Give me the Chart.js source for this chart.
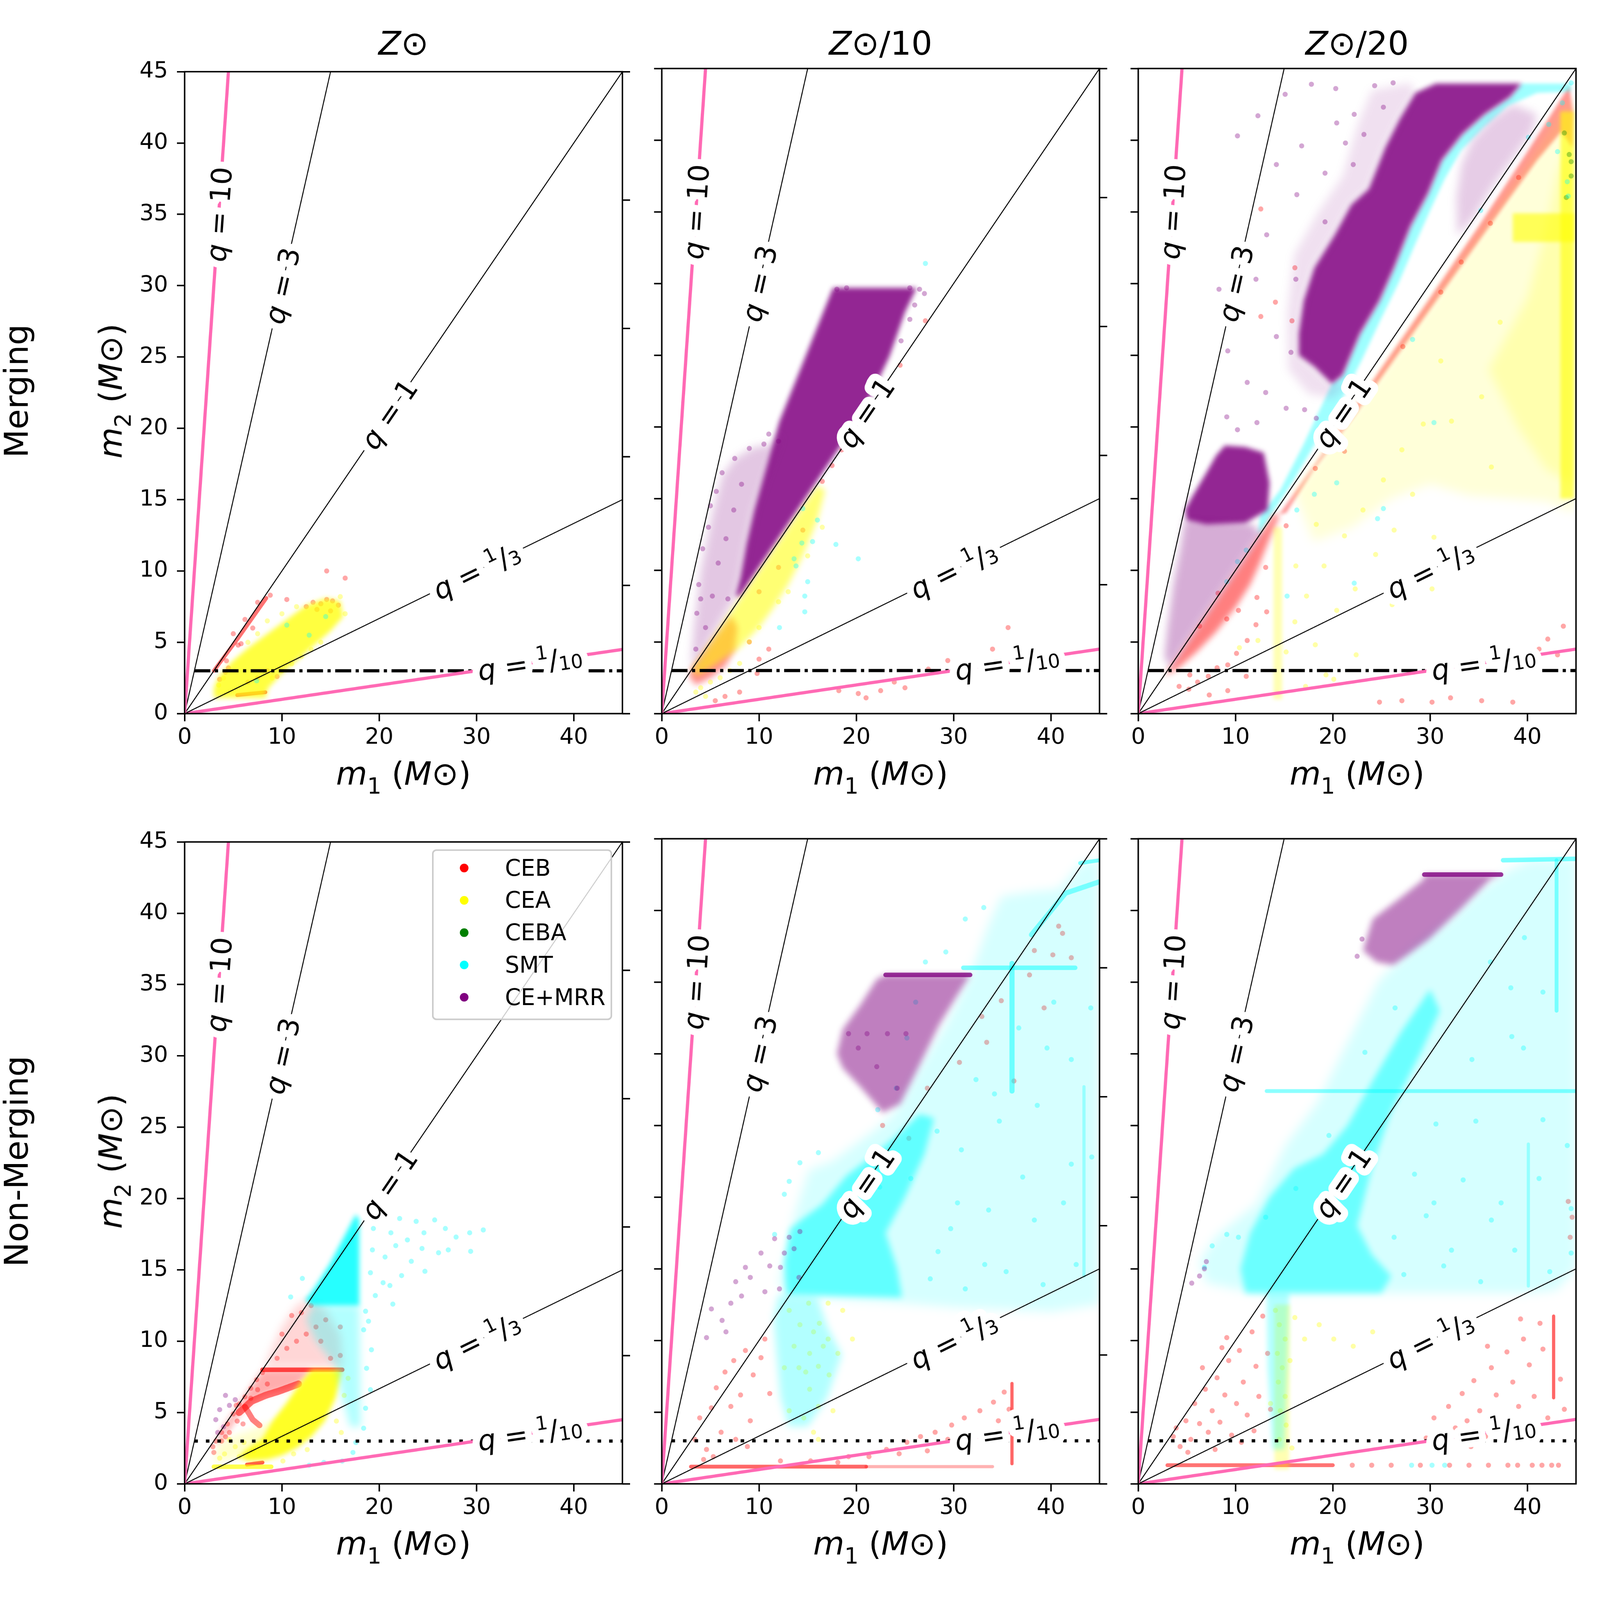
<!DOCTYPE html>
<html><head><meta charset="utf-8">
<script src="https://cdn.jsdelivr.net/npm/chart.js@4.4.1/dist/chart.umd.min.js"></script>
<style>
html,body{margin:0;padding:0;background:#fff;overflow:hidden;}
#root{position:absolute;left:0;top:0;width:5000px;height:5000px;overflow:hidden;background:#fff;font-family:"DejaVu Sans",sans-serif;transform-origin:0 0;}
canvas{position:absolute;}
.t{position:absolute;white-space:nowrap;line-height:1;color:#000;font-family:"DejaVu Sans",sans-serif;}
.t i{font-style:italic;}
.t sub{font-size:70%;vertical-align:baseline;position:relative;top:0.4em;}
</style></head><body><div id="root"></div>
<script>
// ---------- axis / label data ----------
const xTicks=[0,10,20,30,40];
const yTicks=[0,5,10,15,20,25,30,35,40,45];
const yRightTicks=[0,9,18,27,36,45];
const seriesNames=['CEB','CEA','CEBA','SMT','CE+MRR'];
const seriesColors=['255,0,0','255,255,0','0,128,0','0,255,255','128,0,128'];
const colTitles=['⊙','⊙/10','⊙/20'];
const rowTitles=['Merging','Non-Merging'];
const qLineEnds=[[4.5,45],[15,45],[45,45],[45,15],[45,4.5]];
const qPink=[true,false,false,false,true];
const qLabelAt=[[3.5,35],[10,30],[21,21],[30,10],[35.5,3.55]];
const qLabelText=[
 [['q','i'],[' = 10','n']],
 [['q','i'],[' = 3','n']],
 [['q','i'],[' = 1','n']],
 [['q','i'],[' = ','n'],['1','sup'],['/','n'],['3','sub']],
 [['q','i'],[' = ','n'],['1','sup'],['/','n'],['10','sub']]
];
const limitLine=[[1,3],[45,3]];

// ================= Panel 1: Merging, Z⊙ =================
const P1_CEA_area=[[3,1.1],[8.3,1.1],[8.6,1.8],[10,2.8],[12.5,4.3],[15,5.8],[16.3,6.8],[16,7.9],[14.5,8.1],[12.5,7.6],[10.5,6.6],[8.5,5.6],[6.5,4.6],[4.8,3.6],[3.5,2.6],[3,1.8]];
const P1_CEB_diag=[[3,3],[5.4,5.2],[8.4,8.1]];
const P1_CEB_bottom=[[5.4,1.3],[8.3,1.5]];
const P1_CEB_S=[[4.3,3.7],[5.5,4.8],[5.8,4.9],[7,6],[4.5,3.2],[3.6,2.4],[4.2,2.9],[12.5,7.5],[13.2,7.8],[14,7.7],[14.6,8],[15.2,7.9],[15.8,7.6],[13.6,7.3],[15,7.2],[14.6,10],[16.5,9.5],[10.5,8],[6.5,2.2],[7.5,2.5],[8.5,3],[9.5,2.6],[6.2,6.6],[7.5,7.8],[5,5.6],[8.8,8.3]];
const P1_CEA_S=[[9,2.5],[10,3],[11,3.5],[12,4],[13,4.5],[16,8.2],[16.5,7],[11.5,7.5],[10,7],[8.5,6.5],[4,2.5],[3.5,2],[14,5],[7.5,5.6],[6.5,5]];
const P1_SMT_S=[[7.4,2.3],[12.8,5.5],[14.5,6.8],[10.5,6.2]];

// ================= Panel 2: Merging, Z⊙/10 =================
const P2_CEMRR_core=[[17.6,29.7],[26.2,29.7],[25,28],[23.4,24.9],[21.5,22.2],[20.2,20.5],[8,8.2],[7.6,8.2],[8.1,9.5],[8.7,11.8],[9.5,14.2],[12.1,20.4],[15,25.3]];
const P2_CEMRR_halo=[[3,3.2],[3.3,6],[4,10],[5.2,14],[6.2,16.6],[7.5,17.8],[9.5,18.6],[11.5,18.8],[12.3,19.5],[9.5,14.2],[8.7,11.8],[8.1,9.5],[7.6,8.2],[3.8,3.8]];
const P2_CEMRR_S=[[3.8,9],[4.2,11.5],[5,14.5],[6.2,16.8],[7.5,17.8],[9,18.5],[10.5,18.8],[12,19],[11,19.5],[5.6,15.5],[4.8,13],[3.6,7],[26.5,29.6],[27,29.3],[26,28.5],[25.5,27.5],[24.6,26],[25.5,29.7],[19,29.7],[18,29.6],[4.5,6],[5.8,10.5],[6.6,12.2],[7.4,14.2],[8.2,16],[5.2,8.2],[6.8,8],[4,8],[3.5,4.5]];
const P2_CEA_area=[[3.5,2.6],[5.5,3.4],[8,4.6],[10,6],[11.5,7.4],[13,9],[14.5,11],[16,13.5],[16.8,15.6],[16,15.9],[13,13],[10,10],[7,7],[4,4],[3.2,3.2]];
const P2_CEA_S=[[4,1.8],[5,2.2],[6,2.5],[7,3],[8,3.5],[4.5,1.2],[3.5,1.5],[10,6],[13,8.5],[9,5],[12,7.8],[15,11],[16.5,13]];
const P2_CEB_area=[[2.8,2.6],[3.5,2],[5,2.5],[6.5,3.3],[7.5,4.5],[7.8,6],[7.2,6.8],[5.5,5.3],[4,3.9],[3,3.1]];
const P2_CEB_S=[[10,8.5],[12,10.2],[14.5,12.8],[16.5,16.2],[17.5,17.3],[18.5,18.4],[24.5,24.3],[27.1,27.4],[9.8,2.8],[18.2,1.6],[20.2,1.4],[22.5,1.6],[23.9,2.2],[27.4,3.1],[29.4,3.7],[34,4.5],[35.6,6],[21,1.1],[25,1.8],[31,2.4],[8,1.5],[6.5,1.2],[5.5,0.9],[11,4.5],[9,5],[10,3.8]];
const P2_SMT_S=[[27.1,31.4],[20.2,10.8],[17.9,11.8],[15,9.2],[14.7,8.2],[14.4,11.9],[13.6,10.8],[12.1,6],[14.7,7.1],[13.8,10.3],[16,13.5],[15.5,12],[14.5,14.3]];

// ================= Panel 3: Merging, Z⊙/20 =================
const P3_CEMRR_band=[[30.6,43.95],[39.4,43.95],[38.2,43],[35.6,41.8],[33.3,40.4],[31.2,38.6],[29.8,36.3],[28,34],[26.3,31.1],[24.8,28.8],[22.8,26.5],[21,23.6],[19.9,23],[18.1,24.2],[16.5,25],[16.5,26.5],[17,28.8],[18.1,31.1],[20.2,33.4],[21.9,35.5],[23.7,36.6],[25.4,39.5],[26.9,41.5],[28.5,43.3]];
const P3_CEMRR_fringe=[[28,44],[24,43.5],[22.5,41],[21,37.5],[18.5,35],[16,32],[15.3,28],[15.4,24],[17.5,22.3],[20,22],[21.5,23],[19.9,23],[18.1,24.2],[16.5,25],[16.5,26.5],[17,28.8],[18.1,31.1],[20.2,33.4],[21.9,35.5],[23.7,36.6],[25.4,39.5],[26.9,41.5],[28.5,43.3]];
const P3_CEMRR_low=[[8.9,18.7],[11,18.6],[12.9,18.2],[13.5,16.1],[13.3,14.2],[11,13.3],[7,13.2],[5,13.5],[4.8,14.2],[5.6,15.2],[7,16.8],[8,18]];
const P3_CEMRR_mid=[[4.8,13.6],[11.5,13.3],[12.6,12.6],[11,11],[9,9],[7,7],[5,5],[3.2,3.2],[2.7,4],[3,6],[3.6,9],[4.3,11.5]];
const P3_CEMRR_right=[[32.8,33.3],[34.5,34.6],[36.5,36.8],[38.5,38.7],[40.5,40.6],[41,41.8],[38.5,42.5],[36.3,41.5],[34.3,40],[33.2,38.3],[32.7,36]];
const P3_CEMRR_S=[[10.2,40.3],[12.3,41.7],[15.1,43.2],[17.8,43.9],[20.3,43.6],[22.2,41.8],[14.2,38.3],[16.8,39.6],[16.3,36.2],[19.2,37.7],[21.3,39.8],[13.2,33.4],[12.1,30.3],[11.3,27.8],[14.2,26.3],[13.1,22.4],[12.2,20.3],[11.2,23.1],[15.2,21.3],[17.1,21.2],[18.3,20.6],[10.2,19.8],[9.1,20.7],[24.3,43.8],[26.2,44],[20.4,41.2],[23.2,40.4],[9.2,25.3],[8.3,29.6],[15.7,25.2],[16.2,30.3],[19.2,34.3],[22.1,38.3],[25.2,42.3]];
const P3_SMT_band=[[12.5,13.8],[14.6,15.6],[17,18.8],[19.9,23],[21,23.6],[22.8,26.5],[24.8,28.8],[26.3,31.1],[28,34],[29.8,36.3],[31.2,38.6],[33.3,40.4],[35.6,41.8],[38.2,43],[39.4,43.95],[44.5,43.95],[44.5,43.4],[41,43.3],[38,42.4],[35.5,40.9],[33.2,39.3],[31.5,37.3],[30,35.1],[28.5,32.8],[26.8,30.1],[25,27.6],[23,24.7],[21,22],[18.5,19.2],[16,16.3],[13.5,13.7],[12.3,12.4]];
const P3_SMT_S=[[9.1,9.2],[10.2,10.6],[11.1,11.4],[16.3,14.2],[18.1,15.3],[20.4,16.1],[25.2,14.3],[24.6,13.6],[22.2,9.1],[15.3,8.2],[30.4,20.3],[28.2,26.1],[35.2,35.1],[40.1,40.2],[42.2,41.1],[43.1,39.2],[44.1,37.1],[44.2,36.1],[43.6,42.6],[44.5,44]];
const P3_CEB_core=[[2.6,2.6],[4,3.1],[6,4.3],[8,5.7],[10,7.4],[11.5,9],[12.5,10.5],[13.5,12.2],[14.5,13.8],[14,14],[12,11.9],[9,8.9],[6,5.9],[3.5,3.4]];
const P3_CEB_band=[[14.5,13.9],[20,19.1],[25,24.1],[30,29],[35,34],[40,39.2],[43,42.4],[44.3,43.8],[44.7,42],[44.6,39.5],[43.5,40.6],[41,38.6],[38,35.8],[34,32],[30,28.2],[26,24.4],[22,20.6],[18,17],[15.2,14]];
const P3_CEB_S=[[5.2,1.7],[6.1,2.2],[7.2,2.6],[8.1,3.2],[9.2,3.4],[10.1,4.2],[11.2,5.1],[12.1,6.2],[13.2,7.1],[6.3,6.1],[8.2,8.4],[9.1,6.6],[10.3,7.2],[12.2,8.1],[13.1,10.2],[7.3,1.3],[9.2,1.6],[11.1,2.6],[5.3,2.7],[4.2,1.9],[24.8,0.8],[27.1,0.9],[30.2,0.8],[32.1,1.1],[35.3,0.9],[38.5,0.8],[40.1,3.7],[41.2,4.5],[42.1,5.2],[43.7,6.1],[43.1,4.1],[12.6,35.2],[16.1,31.1],[12.6,27.7],[15.8,27.4],[14.1,28.7],[20.3,19.2],[21.2,18.3],[18.2,17.1],[15.2,13.1],[27.2,25.6],[31.1,29.4],[36.2,34.2],[39.1,37.4],[33.2,31.5]];
const P3_CEA_wide=[[16,15.5],[22,21],[28,26.8],[34,32.6],[40,38.4],[43.6,42.3],[44.8,43],[44.8,14],[42,14.8],[38,15],[34,15.2],[30,16],[26,15],[22,13],[18,12]];
const P3_CEA_right=[[36,24],[40,29],[42,34],[43,37.5],[44.8,40.5],[44.8,16],[42,17],[39,20]];
const P3_CEA_strip=[[43.4,15],[44.8,15],[44.8,42],[43.4,42]];
const P3_CEA_block=[[38.5,32.9],[44.8,32.9],[44.8,34.9],[38.5,34.9]];
const P3_CEA_vstrip=[[13.9,1],[14.8,1],[14.8,13],[13.9,13]];
const P3_CEA_S=[[15.2,4.3],[16.1,6.4],[17.3,8.2],[18.2,4.8],[19.1,10.3],[20.4,7.2],[21.2,12.4],[22.3,8.7],[23.1,14.2],[24.4,11.1],[25.2,16.3],[26.3,12.8],[27.1,18.4],[28.2,15.3],[29.3,20.2],[30.4,12.3],[26.1,7.6],[22.4,4.1],[19.3,2.7],[17.2,1.9],[20.1,2.4],[12.3,5.1],[10.4,4.6],[16.2,10.3],[18.3,13.2],[30.2,8.7],[33.1,11.3],[32.2,20.4],[35.3,22.1],[31.1,24.6],[37.2,27.3],[36.3,17.2]];
const P3_CEBA_S=[[44,36],[44.5,37.5],[44.3,39],[43.8,40.5],[44.5,38.5]];

// ================= Panel 4: Non-Merging, Z⊙ =================
const P4_SMT_core=[[17.6,18.9],[17.95,18.5],[17.95,12.5],[13,12.5],[12.4,12.9],[13,13.4],[13.8,14.2],[14.9,15.4],[16.3,17.2]];
const P4_SMT_mid=[[13.2,12.5],[17.95,12.5],[18.1,4],[17,4],[16.2,6],[15.6,8.2],[13.5,10],[12.5,11.5]];
const P4_SMT_S=[[18.6,18.7],[19.4,17.9],[20.3,18.5],[21.2,17.6],[22.1,18.6],[22.9,17.1],[23.8,18.4],[24.6,17.6],[25.7,18.5],[26.8,17.9],[27.9,17.3],[29.3,17.6],[30.7,17.8],[19.3,16.4],[20.6,15.9],[21.7,16.7],[23.3,15.6],[24.4,16.5],[26.1,16.2],[19.1,14.8],[20.4,14.1],[22.3,14.6],[24.7,14.9],[19.6,13.2],[21.4,12.6],[18.6,12.1],[18.4,10.8],[19.2,9.4],[18.7,8.1],[19.1,6.6],[18.6,5.3],[18.4,3.9],[17.6,2.9],[16.2,1.6],[14.3,1.5],[12.8,1.3],[17.3,2.2],[21.1,13.9],[18.9,11.4],[27.1,16.4],[29.4,16.3],[12.1,14.4],[10.9,13.1]];
const P4_CEA_core=[[13,8],[16.2,8],[15.5,6],[14.4,4.4],[13,3.3],[11.5,2.5],[10,2],[8.5,1.7],[6.5,1.6],[5.5,1.9],[6.5,2.5],[8,3.2],[9,4.4],[10.4,5.6],[11.8,7]];
const P4_CEA_light=[[3,1.5],[5.5,1.8],[7,2.4],[8.5,3.4],[9,4.4],[7,3.8],[5,3.3],[3.5,2.8]];
const P4_CEA_strip=[[3,1.2],[8.9,1.2]];
const P4_CEA_S=[[4.1,2.1],[5.2,2.6],[6.1,2.9],[3.6,1.8],[5.6,1.9],[7.1,2.3],[4.6,3.1],[16.4,6.2],[15.6,4.4],[16.1,3.6],[11.2,2.1],[10.1,1.6],[12.6,2.4],[16.8,7.4]];
const P4_CEB_wedge=[[2.9,2.7],[4,4],[6,6],[8,8],[13,8],[11.8,7],[10.4,6.6],[8.5,6.3],[7,5.8],[5.8,5],[5,4.2],[4,3.2]];
const P4_CEB_upper=[[8.2,8.2],[9,9.5],[10,11],[11.5,12.5],[13,13],[14.5,12.2],[16,10.5],[16.3,8.2]];
const P4_CEB_line8=[[8,8],[16.2,8]];
const P4_CEB_streak=[[5.6,5],[6.9,5.8],[8.3,6.2],[9.7,6.5],[11.7,7]];
const P4_CEB_branch=[[6.2,5.4],[7,4.5],[7.7,4.1]];
const P4_CEB_bottom=[[6.4,1.35],[8,1.5]];
const P4_CEB_S=[[3.2,3],[3.8,3.6],[4.4,4.2],[5,4.9],[5.6,5.6],[6.2,6.1],[6.8,6.7],[7.4,7.3],[8,7.8],[4.6,3.6],[5.4,4.4],[6,4.2],[3.8,3],[6.8,6],[7.5,6.6],[8.5,7],[5.3,5.5],[4.2,3.3],[3,2.2],[2.9,2.6],[9.5,8.8],[10.5,9.5],[11.5,10],[12.5,10.5],[13.5,11],[14.5,11.5],[12,12],[13,12.5],[16,11],[15,8.8],[16,9],[10,10.5],[11,11.8],[14,10]];
const P4_CEMRR_S=[[3.2,4.5],[3.6,5.2],[4,4],[4.6,5.5],[5.2,5.9],[3.4,3.6],[4.2,6.2]];

// ================= Panel 5: Non-Merging, Z⊙/10 =================
const P5_CEMRR_area=[[23,35.5],[31.7,35.5],[30.3,34],[28.5,32],[26.2,28.8],[24.5,26.5],[22.7,25.9],[20.4,27.7],[18.6,29],[18,30],[18.6,31.7],[20.4,33.4],[22.1,35.2]];
const P5_CEMRR_line=[[23,35.5],[31.7,35.5]];
const P5_CEMRR_S=[[13.1,17.2],[14.2,17.6],[12.6,16.1],[11.1,15.2],[10.2,16.1],[9.1,14.4],[8.2,13.1],[7.1,12.6],[6.2,11.4],[5.1,12.2],[7.6,14.1],[4.6,10.2],[12.1,13.6],[14.1,14.4],[8.6,15.1],[10.6,13.4],[6.6,10.6],[13.6,16.4],[12.2,15.1],[11.6,17.1],[19.2,31.4],[21.1,31.4],[23.2,31.4],[25.1,31.4],[20.2,30.4],[22.1,29.1],[24.2,27.6]];
const P5_SMT_wide=[[15.1,21.9],[17.5,22.5],[22.1,24.8],[23.9,25.9],[26.2,28.8],[29.1,32],[31.7,35.5],[33.5,38.9],[34.9,41],[37.8,41.3],[40.8,41.5],[43.1,43.3],[45,43.6],[45,12.5],[40,12],[30,12.3],[24.7,12.6],[20,12.8],[13,13.2],[12,14],[12.8,16.1],[13.5,18.5]];
const P5_SMT_core=[[12.8,13.2],[24.7,13],[24.2,15],[23,17.5],[25,20],[27,23],[28,25.5],[26.5,25.8],[24,24.2],[21.5,22.8],[19,21.5],[16.5,19.5],[14.5,18.5],[13.2,17.8],[12.6,15.5]];
const P5_SMT_low=[[12,13.2],[16,13],[17,11],[18.5,9],[17,6],[15,4],[13,4],[12.2,6],[11.8,9],[11.5,11.5]];
const P5_SMT_vert=[[36,27.4],[36,36.3]];
const P5_SMT_horiz=[[31,36],[42.5,36]];
const P5_SMT_upper=[[38,38.3],[41.5,41.2],[45,42]];
const P5_SMT_top=[[43,43.3],[45,43.5]];
const P5_SMT_right=[[43.4,14.5],[43.4,27.7]];
const P5_SMT_S=[[27.1,36.4],[29.2,37.1],[26.1,33.6],[33.1,40.2],[31.2,39.4],[25.2,31.1],[24.1,27.6],[22.2,26.1],[16.1,23.1],[14.2,22.4],[12.6,20.2],[11.6,17.4],[13.1,21.1],[30.4,19.6],[34.7,25.3],[39.6,30.4],[38.3,18.4],[33.2,15.3],[28.4,16.2],[42.1,22.3],[32.3,28.2],[27.6,14.3],[31.2,13.6],[35.4,14.8],[39.2,13.9],[42.6,15.3],[29.7,17.8],[33.6,19.1],[37.1,21.4],[41.3,19.6],[44.2,22.8],[30.8,23.3],[34.2,27.2],[38.6,26.4],[42.1,29.6],[36.7,31.8],[40.3,33.6],[44.1,33.2],[28.3,24.6],[25.6,21.3],[22.4,20.7]];
const P5_CEA_S=[[13.1,12.1],[14.2,11.1],[15.1,12.6],[16.2,11.2],[17.1,10.1],[15.2,9.1],[16.1,8.2],[17.2,7.6],[14.1,8.1],[15.2,6.6],[16.1,5.4],[18.1,9.1],[18.6,12.1],[13.6,9.6],[14.6,4.6],[15.6,3.6],[17.6,5.1],[12.6,8.1],[15.6,10.6],[16.6,9.6],[14.8,7.8],[17.1,12.6],[19.6,10.1],[13.1,5.1],[16.1,3.1]];
const P5_CEB_bottom=[[3,1.2],[21,1.2]];
const P5_CEB_bottomFaint=[[21,1.2],[34,1.2]];
const P5_CEB_vert=[[36,1.4],[36,7]];
const P5_CEB_S=[[3.4,3.1],[3.9,4.6],[4.6,2.4],[5.1,5.3],[5.6,6.7],[6.1,3.6],[6.5,7.8],[7.1,5.4],[7.4,8.6],[8.1,6.2],[8.6,9.3],[9.1,4.4],[9.4,7.6],[10.2,8.8],[10.6,10.1],[4.3,1.7],[5.3,1.9],[7.6,3.1],[8.8,2.6],[11.1,6.3],
[21.3,1.9],[23.1,2.4],[24.4,2.1],[25.2,2.9],[26.6,3.3],[27.3,2.3],[28.1,3.6],[29.4,3.1],[29.8,4.1],[31.1,4.6],[31.6,3.3],[32.7,5.1],[33.4,3.8],[34.1,5.7],[34.6,4.4],[35.2,6.4],[35.7,5.2],[19.2,1.9],[15.3,1.6],[18.1,1.5],[12.2,1.6],
[32.9,32.6],[37.8,35.5],[40.2,36.9],[40.8,38.9],[34.9,33.7],[30.6,29.4],[22.7,25],[27.3,27.6],[25.4,24.1],[38.3,37.2],[41.2,38.4],[42.1,36.7],[33.4,30.8],[36.2,28.1],[39.3,33.2]];

// ================= Panel 6: Non-Merging, Z⊙/20 =================
const P6_CEMRR_area=[[29.4,42.5],[37.3,42.5],[36.2,42.2],[33,40],[29.9,38],[27.5,36.8],[26.2,36.2],[24.5,36.4],[23.1,37.2],[24.1,39.4],[26.8,40.8],[29.4,42.2]];
const P6_CEMRR_line=[[29.4,42.5],[37.3,42.5]];
const P6_CEMRR_S=[[6.3,14.5],[6.8,15],[5.5,14],[7,15.5],[22.5,36.8],[23,38]];
const P6_SMT_wide=[[8,17.3],[12.1,19.5],[15.2,23.7],[18.4,26.6],[21.5,30.8],[24.7,35.1],[27.8,37.2],[32,39.4],[35.2,41.5],[38.3,42.9],[40.4,43.5],[45,43.6],[45,15],[43,13.5],[40,13.3],[12,13.3],[7,14],[6.3,15.5]];
const P6_SMT_core=[[11,13.3],[25,13.3],[26,14.5],[24,16],[22.5,18],[24,22],[26,26],[29,30],[31,33],[30,34.5],[27,31.5],[24,28],[21.5,25],[19,23],[16,22],[13.5,20],[11.5,17.5],[10.5,15]];
const P6_SMT_low=[[13.2,13.3],[15.5,13.3],[15.3,8],[15,2.4],[13.8,2.4],[13.3,8]];
const P6_SMT_horiz=[[13.2,27.4],[45,27.4]];
const P6_SMT_top=[[37.5,43.5],[45,43.6]];
const P6_SMT_vert=[[43,33],[43,43.5]];
const P6_SMT_vert2=[[40.1,13.8],[40.1,23.7]];
const P6_SMT_S=[[28.1,1.3],[30.2,1.3],[31.5,1.3],[44.5,16.1],[44.5,19.2],[9.1,17.4],[7.6,16.6],[6.8,15.1],[30.4,19.6],[34.7,25.3],[39.6,30.4],[36.3,18.4],[32.2,16.3],[28.4,21.6],[38.3,34.6],[41.6,25.4],[26.3,17.2],[27.3,14.6],[31.4,15.2],[35.2,14.1],[38.7,16.3],[42.3,14.8],[29.6,18.7],[33.4,21.2],[37.3,19.6],[41.2,21.3],[44.1,23.6],[30.6,25.1],[34.3,29.6],[38.4,31.2],[41.6,34.3],[36.2,36.4],[39.7,38.1],[26.4,33.2],[23.3,30.1],[19.6,24.3],[16.2,20.6],[10.3,17.2],[13.1,18.6]];
const P6_CEA_vstrip=[[14,1],[15.5,1],[15.6,12.5],[14,12.5]];
const P6_CEA_S=[[14.1,12.1],[14.5,11.1],[15.1,10.1],[14.3,9.1],[14.8,8.1],[14.4,7.1],[15.1,6.1],[14.6,5.1],[15.2,4.1],[14.5,3.1],[15.6,8.6],[16.1,11.6],[17.1,10.1],[18.6,11.1],[20.1,10.1],[22.1,9.6],[24.1,10.6],[13.6,5.6],[15.8,2.5]];
const P6_CEB_bottom=[[3,1.3],[20,1.3]];
const P6_CEB_vert=[[42.7,6],[42.7,11.7]];
const P6_CEB_S=[[22,1.3],[24,1.3],[26,1.3],[29,1.3],[32,1.3],[34,1.3],[36,1.3],[38,1.3],[39,1.3],[40.5,1.3],[41.5,1.3],[42.5,1.3],[43.2,1.3],
[3.6,3.3],[4.3,2.6],[4.9,4.4],[5.4,3.1],[5.8,5.6],[6.3,4.2],[6.9,6.6],[7.2,3.6],[7.6,5.1],[8.1,7.4],[8.4,4.3],[8.9,6.2],[9.3,8.6],[9.6,3.4],[10.1,5.6],[10.4,9.3],[10.8,7.1],[11.2,4.8],[11.7,10.6],[12.1,8.2],[12.4,6.1],[12.8,11.7],[13.3,9.1],[13.6,5.2],[7.9,2.4],[10.6,2.9],[5.1,2.2],[6.6,8.1],[9.1,10.2],[11.9,3.7],[3.9,3.9],[8.6,9.5],
[29.6,3.2],[30.4,4.6],[31.2,2.7],[31.9,5.4],[32.6,3.9],[33.3,6.3],[33.8,4.4],[34.5,7.2],[35.1,5.1],[35.7,3.3],[36.3,8.1],[36.8,6.2],[37.4,4.3],[37.9,9.2],[38.5,7.1],[39.1,5.4],[39.6,10.1],[40.2,8.3],[40.7,6.1],[41.3,11.2],[41.6,9.4],[42.1,4.6],[43.4,7.3],[43.8,5.2],[38.8,3.1],[41.1,3.6],[34.2,2.6],[44.4,17.2],[44.6,18.6],[44.2,19.7],[35.9,9.6],[39.3,11.5]];

// ---------- layout geometry ----------
const plotLefts=[577,2068,3557];
const plotTops=[214,2621];
const PW=1368, PH=2016;
const PADL=260, PADT=60, PADR=80, PADB=150;
const dotStyle={r:8,a:0.35};

// areas: [polygon, series, alpha, blurPx]; streaks: [polyline, series, width, alpha]; dots: [points, series]
const panels=[
 {row:0,col:0,
  areas:[[P1_CEA_area,1,0.75,8]],
  streaks:[[P1_CEB_diag,0,12,0.55],[P1_CEB_bottom,0,12,0.6]],
  dots:[[P1_CEB_S,0],[P1_CEA_S,1],[P1_SMT_S,3]]},
 {row:0,col:1,
  areas:[[P2_CEB_area,0,0.45,10],[P2_CEA_area,1,0.55,10],[P2_CEMRR_halo,4,0.22,14],[P2_CEMRR_core,4,0.85,8]],
  streaks:[],
  dots:[[P2_CEB_S,0],[P2_CEA_S,1],[P2_SMT_S,3],[P2_CEMRR_S,4]]},
 {row:0,col:2,
  areas:[[P3_CEB_core,0,0.5,10],[P3_CEB_band,0,0.42,6],[P3_CEA_wide,1,0.15,16],[P3_CEA_right,1,0.2,16],[P3_CEA_strip,1,0.6,6],[P3_CEA_block,1,0.6,6],[P3_CEA_vstrip,1,0.3,6],[P3_SMT_band,3,0.38,6],[P3_CEMRR_fringe,4,0.12,14],[P3_CEMRR_band,4,0.85,8],[P3_CEMRR_low,4,0.85,8],[P3_CEMRR_mid,4,0.32,12],[P3_CEMRR_right,4,0.2,14]],
  streaks:[],
  dots:[[P3_CEB_S,0],[P3_CEA_S,1],[P3_CEBA_S,2],[P3_SMT_S,3],[P3_CEMRR_S,4]]},
 {row:1,col:0,
  areas:[[P4_CEB_wedge,0,0.32,10],[P4_CEB_upper,0,0.16,14],[P4_CEA_core,1,0.85,8],[P4_CEA_light,1,0.2,12],[P4_SMT_core,3,0.85,8],[P4_SMT_mid,3,0.3,12]],
  streaks:[[P4_CEB_line8,0,14,0.7],[P4_CEB_streak,0,22,0.55],[P4_CEB_branch,0,18,0.5],[P4_CEB_bottom,0,12,0.7],[P4_CEA_strip,1,14,0.7]],
  dots:[[P4_CEB_S,0],[P4_CEA_S,1],[P4_SMT_S,3],[P4_CEMRR_S,4]]},
 {row:1,col:1,
  areas:[[P5_SMT_wide,3,0.16,16],[P5_SMT_core,3,0.55,10],[P5_SMT_low,3,0.3,12],[P5_CEMRR_area,4,0.5,10]],
  streaks:[[P5_CEB_bottom,0,12,0.6],[P5_CEB_bottomFaint,0,10,0.3],[P5_CEB_vert,0,10,0.6],[P5_SMT_vert,3,16,0.5],[P5_SMT_horiz,3,14,0.5],[P5_SMT_upper,3,16,0.45],[P5_SMT_top,3,12,0.5],[P5_SMT_right,3,10,0.3],[P5_CEMRR_line,4,14,0.8]],
  dots:[[P5_CEB_S,0],[P5_CEA_S,1],[P5_SMT_S,3],[P5_CEMRR_S,4]]},
 {row:1,col:2,
  areas:[[P6_CEA_vstrip,1,0.3,6],[P6_SMT_wide,3,0.16,16],[P6_SMT_core,3,0.5,10],[P6_SMT_low,3,0.3,8],[P6_CEMRR_area,4,0.5,10]],
  streaks:[[P6_CEB_bottom,0,12,0.55],[P6_CEB_vert,0,10,0.6],[P6_SMT_horiz,3,12,0.45],[P6_SMT_top,3,14,0.5],[P6_SMT_vert,3,12,0.45],[P6_SMT_vert2,3,10,0.3],[P6_CEMRR_line,4,14,0.8]],
  dots:[[P6_CEB_S,0],[P6_CEA_S,1],[P6_SMT_S,3],[P6_CEMRR_S,4]]}
];

const root=document.getElementById('root');
const SC=Math.min(window.innerWidth||5000,window.innerHeight||5000)/5000;
root.style.transform='scale('+SC+')';
const FONT='"DejaVu Sans", sans-serif';

function drawRich(ctx,segs,fs){
  let w=0;
  const items=segs.map(s=>{
    const small=(s[1]==='sup'||s[1]==='sub');
    const size=small?fs*0.68:fs;
    const font=(s[1]==='i'?'italic ':'')+size+'px '+FONT;
    ctx.font=font;
    const it={t:s[0],font:font,x:w,dy:s[1]==='sup'?-fs*0.42:(s[1]==='sub'?fs*0.06:0)};
    w+=ctx.measureText(s[0]).width;
    return it;
  });
  const base=fs*0.36;
  ctx.textAlign='left'; ctx.textBaseline='alphabetic';
  ctx.lineJoin='round'; ctx.strokeStyle='#fff'; ctx.lineWidth=fs*0.5;
  items.forEach(it=>{ctx.font=it.font;ctx.strokeText(it.t,it.x-w/2,base+it.dy);});
  ctx.fillStyle='#000';
  items.forEach(it=>{ctx.font=it.font;ctx.fillText(it.t,it.x-w/2,base+it.dy);});
}

// soft edges for density areas (canvas filter applied to the area datasets only)
const blurPlugin={
  id:'softAreas',
  beforeDatasetsDraw(chart){
    const seq=chart.getSortedVisibleDatasetMetas().map(m=>m.index).reverse();
    chart.$seq=seq;
    const d=chart.data.datasets[seq[0]];
    chart.ctx.filter=(d&&d.softPx)?'blur('+d.softPx+'px)':'none';
  },
  afterDatasetDraw(chart,args){
    const seq=chart.$seq||[];
    const k=seq.indexOf(args.index);
    const d=chart.data.datasets[seq[k+1]];
    chart.ctx.filter=(d&&d.softPx)?'blur('+d.softPx+'px)':'none';
  },
  afterDatasetsDraw(chart){chart.ctx.filter='none';}
};

const decorPlugin={
  id:'decor',
  afterDatasetsDraw(chart){
    const ctx=chart.ctx, a=chart.chartArea, x=chart.scales.x, y=chart.scales.y;
    ctx.save(); ctx.filter='none';
    ctx.beginPath(); ctx.rect(a.left,a.top,a.right-a.left,a.bottom-a.top); ctx.clip();
    qLabelAt.forEach((p,i)=>{
      const px=x.getPixelForValue(p[0]), py=y.getPixelForValue(p[1]);
      const e=qLineEnds[i];
      const ang=Math.atan2(y.getPixelForValue(e[1])-y.getPixelForValue(0), x.getPixelForValue(e[0])-x.getPixelForValue(0));
      ctx.save(); ctx.translate(px,py); ctx.rotate(ang);
      drawRich(ctx,qLabelText[i],88);
      ctx.restore();
    });
    ctx.restore();
  },
  afterDraw(chart){
    const ctx=chart.ctx, a=chart.chartArea;
    ctx.save(); ctx.filter='none'; ctx.strokeStyle='#000'; ctx.lineWidth=4.6;
    ctx.strokeRect(a.left,a.top,a.right-a.left,a.bottom-a.top);
    ctx.restore();
  }
};

function tickGrid(draw){
  return {drawOnChartArea:false,drawTicks:draw,tickLength:24,tickWidth:4.6,tickColor:'#000',color:'#000',lineWidth:4.6};
}
const pts=arr=>arr.map(v=>({x:v[0],y:v[1]}));
const rgba=(s,a)=>'rgba('+seriesColors[s]+','+a+')';

panels.forEach(p=>{
  const canvas=document.createElement('canvas');
  const W=PW+PADL+PADR, H=PH+PADT+PADB;
  canvas.width=W; canvas.height=H;
  canvas.style.left=(plotLefts[p.col]-PADL)+'px';
  canvas.style.top=(plotTops[p.row]-PADT)+'px';
  canvas.style.width=W+'px'; canvas.style.height=H+'px';
  root.appendChild(canvas);
  const datasets=[];
  qLineEnds.forEach((e,i)=>datasets.push({type:'line',data:[{x:0,y:0},{x:e[0],y:e[1]}],borderColor:qPink[i]?'#ff69b4':'#000',borderWidth:qPink[i]?10:3,pointRadius:0,fill:false,order:0,clip:0,borderCapStyle:'butt'}));
  datasets.push({type:'line',data:pts(limitLine),borderColor:'#000',borderWidth:10,borderDash:p.row===0?[50,14,10,14]:[11,25],borderCapStyle:'butt',pointRadius:0,fill:false,order:1,clip:0});
  p.areas.forEach(s=>{
    const poly=s[0].concat([s[0][0]]);
    datasets.push({type:'line',data:pts(poly),borderWidth:0,borderColor:'rgba(0,0,0,0)',pointRadius:0,tension:0,fill:'shape',backgroundColor:rgba(s[1],s[2]),softPx:s[3],order:7-s[1],clip:0});
  });
  p.streaks.forEach(s=>{
    datasets.push({type:'line',data:pts(s[0]),borderColor:rgba(s[1],s[3]),borderWidth:s[2],borderCapStyle:'round',borderJoinStyle:'round',pointRadius:0,tension:0,fill:false,order:7-s[1],clip:0});
  });
  p.dots.forEach(s=>{
    datasets.push({type:'scatter',data:pts(s[0]),backgroundColor:rgba(s[1],dotStyle.a),borderWidth:0,pointRadius:dotStyle.r,pointHoverRadius:dotStyle.r,order:7-s[1],clip:0});
  });
  new Chart(canvas,{
    type:'scatter',
    data:{datasets:datasets},
    options:{
      responsive:false,animation:false,devicePixelRatio:1,events:[],
      layout:{padding:{left:0,top:PADT,right:0,bottom:0}},
      plugins:{legend:{display:false},tooltip:{enabled:false}},
      scales:{
        x:{type:'linear',min:0,max:45,
           afterBuildTicks:s=>{s.ticks=xTicks.map(v=>({value:v}));},
           afterFit:s=>{s.height=PADB;},
           ticks:{font:{family:FONT,size:70},color:'#000',padding:10,maxRotation:0,autoSkip:false},
           grid:tickGrid(true),border:{display:false}},
        y:{type:'linear',position:'left',min:0,max:45,
           afterBuildTicks:s=>{s.ticks=yTicks.map(v=>({value:v}));},
           afterFit:s=>{s.width=PADL;},
           ticks:{display:p.col===0,font:{family:FONT,size:70},color:'#000',padding:28,autoSkip:false},
           grid:tickGrid(true),border:{display:false}},
        yR:{type:'linear',position:'right',min:0,max:45,
           afterBuildTicks:s=>{s.ticks=yRightTicks.map(v=>({value:v}));},
           afterFit:s=>{s.width=PADR;},
           ticks:{display:false},
           grid:tickGrid(p.col<2),border:{display:false}}
      }
    },
    plugins:[blurPlugin,decorPlugin]
  });
});

// ---------- text ----------
function addText(html,cx,cy,fs,rot){
  const d=document.createElement('div');
  d.className='t'; d.innerHTML=html;
  d.style.fontSize=fs+'px';
  d.style.left=cx+'px'; d.style.top=cy+'px';
  d.style.transform='translate(-50%,-50%)'+(rot?' rotate(-90deg)':'');
  root.appendChild(d);
}
const colCenters=plotLefts.map(l=>l+PW/2);
const rowCenters=plotTops.map(t=>t+PH/2);
colTitles.forEach((t,i)=>addText('<i>Z</i>'+t,colCenters[i],172-0.346*103,103,false));
rowTitles.forEach((t,i)=>addText(t,87-0.346*103,rowCenters[i],103,true));
rowCenters.forEach(c=>addText('<i>m</i><sub>2</sub> (<i>M</i>⊙)',382-0.346*100,c,100,true));
plotTops.forEach(t=>colCenters.forEach(c=>addText('<i>m</i><sub>1</sub> (<i>M</i>⊙)',c,t+PH+223-0.346*100,100,false)));

// ---------- legend (bottom-left panel) ----------
const lg=document.createElement('div');
lg.style.cssText='position:absolute;left:1350px;top:2654px;width:563px;height:534px;box-sizing:border-box;border:5px solid #cccccc;border-radius:14px;background:rgba(255,255,255,0.8);';
root.appendChild(lg);
seriesNames.forEach((n,i)=>{
  const cy=2712+101*i;
  const m=document.createElement('div');
  m.style.cssText='position:absolute;left:'+(1450-13.5)+'px;top:'+(cy-13.5)+'px;width:27px;height:27px;border-radius:50%;background:rgb('+seriesColors[i]+');';
  root.appendChild(m);
  const t=document.createElement('div');
  t.className='t'; t.textContent=n;
  t.style.fontSize='71px'; t.style.left='1578px'; t.style.top=cy+'px'; t.style.transform='translateY(-50%)';
  root.appendChild(t);
});
</script></body></html>
